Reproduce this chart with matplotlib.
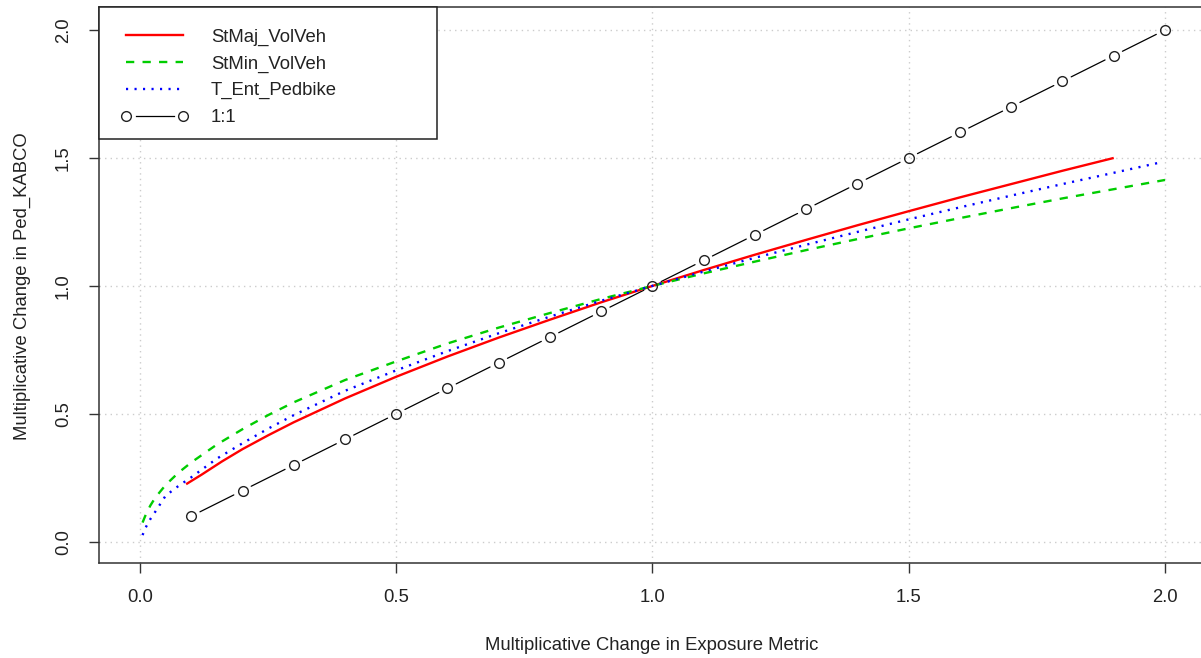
import matplotlib
matplotlib.use('Agg')
import matplotlib.pyplot as plt
from matplotlib.lines import Line2D
from matplotlib.patches import Rectangle
from matplotlib.legend_handler import HandlerBase

plt.rcParams['font.family'] = ['Liberation Sans', 'DejaVu Sans']

# Curve readings: exposure multiplier vs. change in Ped_KABCO
stmaj_x = [0.09, 0.12, 0.16, 0.2, 0.25, 0.3, 0.4, 0.5, 0.6, 0.7, 0.8, 0.9, 1.0,
           1.1, 1.2, 1.3, 1.4, 1.5, 1.6, 1.7, 1.8, 1.9]
stmaj_y = [0.225, 0.262, 0.314, 0.362, 0.416, 0.467, 0.560, 0.645, 0.724, 0.798,
           0.868, 0.936, 1.0, 1.062, 1.122, 1.180, 1.237, 1.292, 1.346, 1.398,
           1.450, 1.500]

stmin_x = [0.005, 0.01, 0.02, 0.03, 0.05, 0.075, 0.1, 0.15, 0.2, 0.25, 0.3, 0.4,
           0.5, 0.6, 0.7, 0.8, 0.9, 1.0, 1.1, 1.2, 1.3, 1.4, 1.5, 1.6, 1.7, 1.8,
           1.9, 2.0]
stmin_y = [0.075, 0.100, 0.141, 0.173, 0.222, 0.270, 0.310, 0.380, 0.440, 0.495,
           0.545, 0.632, 0.705, 0.775, 0.837, 0.894, 0.949, 1.0, 1.049, 1.095,
           1.140, 1.183, 1.225, 1.265, 1.304, 1.342, 1.378, 1.414]

pedbike_x = [0.005, 0.01, 0.02, 0.03, 0.05, 0.075, 0.1, 0.15, 0.2, 0.25, 0.3,
             0.4, 0.5, 0.6, 0.7, 0.8, 0.9, 1.0, 1.1, 1.2, 1.3, 1.4, 1.5, 1.6,
             1.7, 1.8, 1.9, 1.99]
pedbike_y = [0.026, 0.052, 0.088, 0.118, 0.180, 0.218, 0.252, 0.325, 0.385,
             0.442, 0.495, 0.590, 0.670, 0.745, 0.815, 0.880, 0.942, 1.0, 1.056,
             1.110, 1.161, 1.211, 1.260, 1.307, 1.353, 1.398, 1.442, 1.482]

# reference 1:1 line
one_x = [0.1, 0.2, 0.3, 0.4, 0.5, 0.6, 0.7, 0.8, 0.9, 1.0,
         1.1, 1.2, 1.3, 1.4, 1.5, 1.6, 1.7, 1.8, 1.9, 2.0]
one_y = [0.1, 0.2, 0.3, 0.4, 0.5, 0.6, 0.7, 0.8, 0.9, 1.0,
         1.1, 1.2, 1.3, 1.4, 1.5, 1.6, 1.7, 1.8, 1.9, 2.0]

ticks = [0.0, 0.5, 1.0, 1.5, 2.0]
tick_labels = ['0.0', '0.5', '1.0', '1.5', '2.0']
labels = ['StMaj_VolVeh', 'StMin_VolVeh', 'T_Ent_Pedbike', '1:1']

RED = '#ff0000'
GREEN = '#00cd00'
BLUE = '#0000ff'
AXC = '#333333'
FS = 13.3

fig = plt.figure(figsize=(12.01, 6.58), dpi=100)
ax = fig.add_axes([99 / 1201, 95 / 658, 1107 / 1201, 556 / 658])
ax.set_xlim(-0.08, 2.08)
ax.set_ylim(-0.083, 2.09)

ax.grid(True, color='#cccccc', linestyle=(0, (1, 3)), linewidth=1)
ax.set_axisbelow(True)

ax.set_xticks(ticks)
ax.set_xticklabels(tick_labels)
ax.set_yticks(ticks)
ax.set_yticklabels(tick_labels, rotation=90, va='center')
ax.tick_params(axis='both', length=7.5, width=1, color=AXC, labelsize=FS,
               labelcolor='#222222')
ax.tick_params(axis='x', pad=11)
ax.tick_params(axis='y', pad=12)
for s in ax.spines.values():
    s.set_color(AXC)
    s.set_linewidth(1.1)

# type="b" style: open circles with segments that stop short of each point
for i in range(len(one_x) - 1):
    ax.annotate('', xy=(one_x[i + 1], one_y[i + 1]), xytext=(one_x[i], one_y[i]),
                arrowprops=dict(arrowstyle='-', shrinkA=7, shrinkB=7,
                                color='black', lw=0.9))
ax.plot(one_x, one_y, ls='none', marker='o', ms=7, mfc='none', mec='#222222',
        mew=1.0, zorder=5)

ax.plot(stmaj_x, stmaj_y, color=RED, lw=1.7, solid_capstyle='butt', zorder=3)
ax.plot(stmin_x, stmin_y, color=GREEN, lw=1.7, dashes=(3.5, 3.5),
        dash_capstyle='butt', zorder=3)
ax.plot(pedbike_x, pedbike_y, color=BLUE, lw=1.7, dashes=(0.9, 2.7),
        dash_capstyle='butt', zorder=4)


class GapLineHandler(HandlerBase):
    def create_artists(self, legend, orig_handle, xdescent, ydescent,
                       width, height, fontsize, trans):
        y = height / 2 - ydescent
        x0 = -xdescent
        x1 = -xdescent + width
        seg = Line2D([x0 + 0.17 * width, x1 - 0.17 * width], [y, y],
                     color='black', lw=0.9, transform=trans)
        pts = Line2D([x0, x1], [y, y], ls='none', marker='o', ms=7,
                     mfc='none', mec='#222222', mew=1.0, transform=trans)
        return [seg, pts]


h_maj = Line2D([], [], color=RED, lw=1.7)
h_min = Line2D([], [], color=GREEN, lw=1.7, dashes=(3.5, 3.5))
h_ped = Line2D([], [], color=BLUE, lw=1.7, dashes=(0.9, 2.7))
h_one = Line2D([], [], color='black')

# legend frame spans from the top-left corner of the plot box
ax.add_patch(Rectangle((0, 0.7626), 0.3053, 0.2374, transform=ax.transAxes,
                       facecolor='white', edgecolor='#222222', lw=1.1,
                       zorder=6, clip_on=False))
leg = ax.legend([h_maj, h_min, h_ped, h_one], labels,
                handler_map={h_one: GapLineHandler()},
                loc='upper left', bbox_to_anchor=(0.0244, 0.9616),
                borderaxespad=0, borderpad=0, frameon=False, fontsize=FS,
                handlelength=3.1, handletextpad=1.5, labelspacing=0.53)
leg.set_zorder(7)
for t in leg.get_texts():
    t.set_color('#222222')

fig.text(652 / 1201, 1 - 645 / 658, 'Multiplicative Change in Exposure Metric',
         ha='center', va='center', fontsize=FS, color='#222222')
fig.text(22 / 1201, 1 - 286 / 658, 'Multiplicative Change in Ped_KABCO',
         ha='center', va='center', rotation=90, fontsize=FS, color='#222222')

fig.savefig('out.png', dpi=100)
